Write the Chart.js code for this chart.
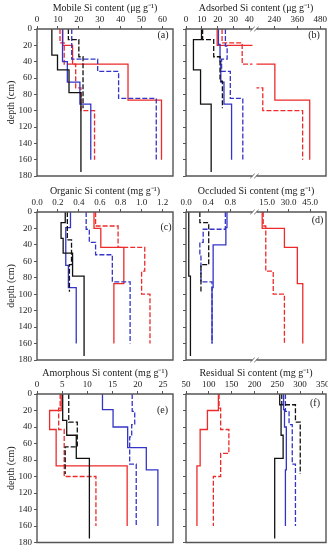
<!DOCTYPE html>
<html>
<head>
<meta charset="utf-8">
<script src="https://cdn.jsdelivr.net/npm/chart.js@4.4.1/dist/chart.umd.min.js"></script>
<style>
  html, body { margin: 0; padding: 0; background: #fff; }
  body { width: 328px; height: 550px; position: relative; overflow: hidden; }
  canvas { position: absolute; }
</style>
</head>
<body>
<canvas id="chart-mobile" width="176" height="183" style="left:0;top:0"></canvas>
<canvas id="chart-adsorbed" width="152" height="183" style="left:176px;top:0"></canvas>
<canvas id="chart-organic" width="176" height="184" style="left:0;top:183px"></canvas>
<canvas id="chart-occluded" width="152" height="184" style="left:176px;top:183px"></canvas>
<canvas id="chart-amorphous" width="176" height="185" style="left:0;top:365px"></canvas>
<canvas id="chart-residual" width="152" height="185" style="left:176px;top:365px"></canvas>
<script>
// horizon boundaries (cm) of the six profiles
const depthBlackSolid = [0, 13, 32, 50, 78, 92, 175];
const depthBlackDashed = [0, 13, 34, 64, 97];
const depthBlueSolid = [0, 19, 40, 65, 92, 160];
const depthBlueDashed = [0, 21, 37, 52, 85, 160];
const depthRedSolid = [0, 20, 43, 87, 160];
const depthRedDashed = [0, 17, 43, 72, 100, 160];
const depthTicks = [0, 20, 40, 60, 80, 100, 120, 140, 160, 180];

// (a) mobile Si, µg/g
const mobileBlackSolid = [7.1, 7.1, 9.8, 15.3, 21, 21];
const mobileBlackDashed = [15, 20, 22, 22];
const mobileBlueSolid = [12.2, 12.2, 14.5, 20.5, 25.7];
const mobileBlueDashed = [16.6, 16.6, 29, 39, 57];
const mobileRedSolid = [12.3, 17, 43.5, 59.5];
const mobileRedDashed = [11, 13, 18.5, 21, 27.5];
const mobileTicks = [0, 10, 20, 30, 40, 50, 60];

// (b) adsorbed Si, µg/g (broken axis)
const adsorbedBlackSolid = [9.8, 4.7, 4.7, 9.2, 9.2, 15.9];
const adsorbedBlackDashed = [10.5, 17.5, 21.5, 23];
const adsorbedBlueSolid = [20.5, 21.5, 22, 24, 28.8];
const adsorbedBlueDashed = [24.9, 26, 22.5, 28, 35.9];
const adsorbedRedSolid = [19.7, 100, 243, 425];
const adsorbedRedDashed = [22.8, 35.5, 90, 180, 388];
const adsorbedTicks = [0, 10, 20, 30, 40, 240, 360, 480];

// (c) organic Si, mg/g
const organicBlackSolid = [0.27, 0.23, 0.25, 0.34, 0.45, 0.45];
const organicBlackDashed = [0.29, 0.29, 0.33, 0.31];
const organicBlueSolid = [0.32, 0.275, 0.275, 0.3, 0.375];
const organicBlueDashed = [0.47, 0.5, 0.56, 0.72, 0.89];
const organicRedSolid = [0.545, 0.61, 0.83, 0.735];
const organicRedDashed = [0.56, 0.775, 1.03, 1.0, 1.08];
const organicTicks = [0, 0.2, 0.4, 0.6, 0.8, 1.0, 1.2];

// (d) occluded Si, mg/g (broken axis)
const occludedBlackSolid = [0.05, 0.05, 0.05, 0.05, 0.08, 0.08];
const occludedBlackDashed = [0.25, 0.41, 0.41, 0.27];
const occludedBlueSolid = [0.74, 0.72, 0.49, 0.49, 0.47];
const occludedBlueDashed = [0.71, 0.31, 0.25, 0.27, 0.47];
const occludedRedSolid = [11.5, 27, 36, 39.8];
const occludedRedDashed = [12.2, 14, 14, 19.2, 27];
const occludedTicks = [0, 0.4, 0.8, 15, 30, 45];

// (e) amorphous Si, mg/g
const amorphousBlackSolid = [5.1, 5.1, 5.9, 7.8, 10.4, 10.4];
const amorphousBlackDashed = [6.3, 6.3, 8.0, 5.6];
const amorphousBlueSolid = [13, 15.1, 18, 21.7, 24];
const amorphousBlueDashed = [18.9, 19.4, 18.8, 18.4, 19.7];
const amorphousRedSolid = [4.8, 2.5, 3.8, 17.9];
const amorphousRedDashed = [4.6, 4.3, 5.4, 5.4, 11.7];
const amorphousTicks = [0, 5, 10, 15, 20, 25];

// (f) residual Si, mg/g
const residualBlackSolid = [255.5, 258.5, 258.5, 263, 244.5, 244.5];
const residualBlackDashed = [260, 290, 300.5, 300.5];
const residualBlueSolid = [264, 266, 270, 270, 268];
const residualBlueDashed = [268, 276, 283, 283, 290];
const residualRedSolid = [121, 97, 81, 74];
const residualRedDashed = [122.5, 126, 144, 126, 110];
const residualTicks = [50, 100, 150, 200, 250, 300, 350];

const TEXT = "#1a1a1a";
const FRAME = "#555";
const BLACK = "#111";
const BLUE = "#3434c8";
const RED = "#ee2a2a";
const DASH = [5, 2];

Chart.defaults.font.family = "'Liberation Serif', serif";

class BrokenScale extends Chart.LinearScale {
  static id = "broken";
  static defaults = {};
  breakPixels() {
    const b = this.options.brk;
    const mid = this.left + b.at * this.width;
    return [mid - b.gap / 2, mid + b.gap / 2];
  }
  getPixelForValue(value) {
    const b = this.options.brk;
    const [xa, xb] = this.breakPixels();
    if (value <= b.lo) return this.left + (value - this.min) / (b.lo - this.min) * (xa - this.left);
    if (value >= b.hi) return xb + (value - b.hi) / (this.max - b.hi) * (this.right - xb);
    return xa + (value - b.lo) / (b.hi - b.lo) * (xb - xa);
  }
}
Chart.register(BrokenScale);

const framePlugin = {
  id: "frame",
  beforeDatasetsDraw(chart) {
    const xs = chart.scales.x;
    if (!xs.breakPixels) return;
    const [xa, xb] = xs.breakPixels();
    const ctx = chart.ctx;
    ctx.save();
    ctx.beginPath();
    ctx.rect(0, 0, xa, chart.height);
    ctx.rect(xb, 0, chart.width - xb, chart.height);
    ctx.clip();
  },
  afterDatasetsDraw(chart) {
    if (chart.scales.x.breakPixels) chart.ctx.restore();
  },
  afterDraw(chart, args, opts) {
    const { ctx, chartArea: a } = chart;
    const xs = chart.scales.x;
    ctx.save();
    ctx.strokeStyle = FRAME;
    ctx.lineWidth = 1.4;
    ctx.beginPath();
    if (xs.breakPixels) {
      const [xa, xb] = xs.breakPixels();
      ctx.moveTo(xa, a.top); ctx.lineTo(a.left, a.top); ctx.lineTo(a.left, a.bottom); ctx.lineTo(xa, a.bottom);
      ctx.moveTo(xb, a.top); ctx.lineTo(a.right, a.top); ctx.lineTo(a.right, a.bottom); ctx.lineTo(xb, a.bottom);
      ctx.stroke();
      ctx.lineWidth = 0.9;
      ctx.beginPath();
      for (const y of [a.top, a.bottom]) {
        for (const x of [xa, xb]) {
          ctx.moveTo(x - 2.2, y + 2.2);
          ctx.lineTo(x + 2.2, y - 2.2);
        }
      }
    } else {
      ctx.rect(a.left, a.top, a.width, a.height);
    }
    ctx.stroke();
    ctx.fillStyle = TEXT;
    ctx.font = "10px 'Liberation Serif'";
    ctx.textAlign = "center";
    ctx.textBaseline = "middle";
    ctx.fillText(opts.letter, a.right - opts.lx, a.top + opts.ly);
    ctx.restore();
  },
};

function stepPoints(depths, values) {
  const pts = values.map((v, i) => ({ x: v, y: depths[i] }));
  pts.push({ x: values[values.length - 1], y: depths[depths.length - 1] });
  return pts;
}

function profileDatasets(s) {
  const styles = [
    [s.blackSolid, depthBlackSolid, BLACK, []],
    [s.blackDashed, depthBlackDashed, BLACK, DASH],
    [s.blueSolid, depthBlueSolid, BLUE, []],
    [s.blueDashed, depthBlueDashed, BLUE, DASH],
    [s.redSolid, depthRedSolid, RED, []],
    [s.redDashed, depthRedDashed, RED, DASH],
  ];
  return styles.map(([vals, depths, color, dash]) => ({
    data: stepPoints(depths, vals),
    borderColor: color,
    borderWidth: 1.3,
    borderDash: dash,
    pointRadius: 0,
    stepped: "after",
    fill: false,
  }));
}

function renderPanel(p) {
  const left = p.col === 0;
  const canvas = document.getElementById(p.id);
  const xAxis = {
    type: p.brk ? "broken" : "linear",
    position: "top",
    min: p.min,
    max: p.max,
    afterBuildTicks: (s) => { s.ticks = p.ticks.map((v) => ({ value: v })); },
    afterFit: (s) => { s.height = 29; s.paddingLeft = 0; s.paddingRight = 0; },
    grid: { drawOnChartArea: false, drawTicks: true, tickLength: 3, color: FRAME },
    border: { display: false },
    ticks: { color: TEXT, font: { size: 9 }, padding: 1, maxRotation: 0, autoSkip: false, callback: (v) => v.toFixed(p.dec) },
    title: { display: true, text: p.title, color: TEXT, font: { size: 10 }, padding: { top: 2, bottom: 0 } },
  };
  if (p.brk) xAxis.brk = p.brk;
  return new Chart(canvas, {
    type: "line",
    data: { datasets: profileDatasets(p.series) },
    options: {
      responsive: false,
      animation: false,
      events: [],
      layout: { padding: { left: 0, top: 0, right: left ? 3 : 2, bottom: canvas.height - p.bottom } },
      plugins: { legend: { display: false }, tooltip: { enabled: false }, frame: { letter: p.letter, lx: p.lx, ly: p.ly } },
      scales: {
        x: xAxis,
        y: {
          type: "linear",
          reverse: true,
          min: 0,
          max: 180,
          afterBuildTicks: (s) => { s.ticks = depthTicks.map((v) => ({ value: v })); },
          afterFit: (s) => { s.width = left ? 37 : 10; s.paddingTop = 0; s.paddingBottom = 0; },
          grid: { drawOnChartArea: false, drawTicks: true, tickLength: 3, color: FRAME },
          border: { display: false },
          ticks: { display: left, color: TEXT, font: { size: 9 }, padding: 2 },
          title: { display: left, text: "depth (cm)", color: TEXT, font: { size: 10 }, padding: { top: 5.5, bottom: 0 } },
        },
      },
    },
    plugins: [framePlugin],
  });
}

const panels = [
  { id: "chart-mobile", col: 0, bottom: 176, title: "Mobile Si content (μg g⁻¹)", min: 0, max: 65, ticks: mobileTicks, dec: 0, letter: "(a)", lx: 10, ly: 6.5,
    series: { blackSolid: mobileBlackSolid, blackDashed: mobileBlackDashed, blueSolid: mobileBlueSolid, blueDashed: mobileBlueDashed, redSolid: mobileRedSolid, redDashed: mobileRedDashed } },
  { id: "chart-adsorbed", col: 1, bottom: 176, title: "Adsorbed Si content (μg g⁻¹)", min: 0, max: 510, ticks: adsorbedTicks, dec: 0, letter: "(b)", lx: 12, ly: 6.5,
    brk: { lo: 42, hi: 147, at: 0.489, gap: 4 },
    series: { blackSolid: adsorbedBlackSolid, blackDashed: adsorbedBlackDashed, blueSolid: adsorbedBlueSolid, blueDashed: adsorbedBlueDashed, redSolid: adsorbedRedSolid, redDashed: adsorbedRedDashed } },
  { id: "chart-organic", col: 0, bottom: 177, title: "Organic Si content (mg g⁻¹)", min: 0, max: 1.3, ticks: organicTicks, dec: 1, letter: "(c)", lx: 7, ly: 15,
    series: { blackSolid: organicBlackSolid, blackDashed: organicBlackDashed, blueSolid: organicBlueSolid, blueDashed: organicBlueDashed, redSolid: organicRedSolid, redDashed: organicRedDashed } },
  { id: "chart-occluded", col: 1, bottom: 177, title: "Occluded Si content (mg g⁻¹)", min: 0, max: 56, ticks: occludedTicks, dec: 1, letter: "(d)", lx: 8.5, ly: 8.7,
    brk: { lo: 1.2, hi: 7.5, at: 0.489, gap: 4 },
    series: { blackSolid: occludedBlackSolid, blackDashed: occludedBlackDashed, blueSolid: occludedBlueSolid, blueDashed: occludedBlueDashed, redSolid: occludedRedSolid, redDashed: occludedRedDashed } },
  { id: "chart-amorphous", col: 0, bottom: 177.5, title: "Amorphous Si content (mg g⁻¹)", min: 0, max: 27, ticks: amorphousTicks, dec: 0, letter: "(e)", lx: 10.5, ly: 16,
    series: { blackSolid: amorphousBlackSolid, blackDashed: amorphousBlackDashed, blueSolid: amorphousBlueSolid, blueDashed: amorphousBlueDashed, redSolid: amorphousRedSolid, redDashed: amorphousRedDashed } },
  { id: "chart-residual", col: 1, bottom: 177.5, title: "Residual Si content (mg g⁻¹)", min: 50, max: 357, ticks: residualTicks, dec: 0, letter: "(f)", lx: 11, ly: 9,
    series: { blackSolid: residualBlackSolid, blackDashed: residualBlackDashed, blueSolid: residualBlueSolid, blueDashed: residualBlueDashed, redSolid: residualRedSolid, redDashed: residualRedDashed } },
];

panels.forEach(renderPanel);
</script>
</body>
</html>
